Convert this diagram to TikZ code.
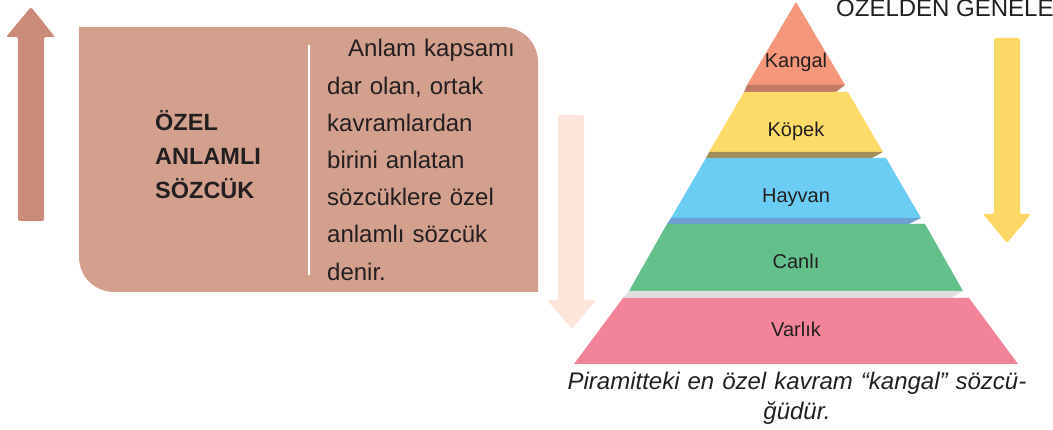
\documentclass[tikz,border=0pt]{standalone}
\usepackage{fontspec}
\setmainfont{Liberation Sans}
\usepackage{tikz}
\definecolor{okkoyu}{RGB}{202,139,121}
\definecolor{kutu}{RGB}{212,160,142}
\definecolor{soluk}{RGB}{252,230,220}
\definecolor{sari}{RGB}{254,216,102}
\definecolor{kangalrenk}{RGB}{244,151,122}
\definecolor{kangalgolge}{RGB}{193,122,102}
\definecolor{kopekrenk}{RGB}{253,219,104}
\definecolor{kopekgolge}{RGB}{160,142,86}
\definecolor{hayvanrenk}{RGB}{107,205,244}
\definecolor{hayvangolge}{RGB}{110,159,211}
\definecolor{canlirenk}{RGB}{99,192,139}
\definecolor{canligolge}{RGB}{224,224,224}
\definecolor{varlikrenk}{RGB}{242,132,153}
\definecolor{yazi}{RGB}{35,31,32}

\tikzset{
	okblok/.style={rounded corners=2pt},
	katyazi/.style={anchor=base, text=yazi, inner sep=0pt, font=\fontsize{20pt}{24pt}\selectfont},
	metin/.style={anchor=base west, text=yazi, inner sep=0pt, align=left}
}

\begin{document}
\begin{tikzpicture}[x=1pt, y=1pt]
	\useasboundingbox (0,0) rectangle (1053,430);
	
	% arrows
	\fill[okkoyu, okblok] (18,209) -- (18,393) -- (6,393) -- (31,423) -- (55,393) -- (44,393) -- (44,209) -- cycle;
	\fill[soluk, okblok] (558,315) -- (558,130) -- (547,130) -- (572,101) -- (596,130) -- (584,130) -- (584,315) -- cycle;
	\fill[sari, okblok] (994,392) -- (994,216) -- (983,216) -- (1007,187) -- (1031,216) -- (1020,216) -- (1020,392) -- cycle;
	
	% box
	\fill[kutu] (79,403) -- (503,403) arc[start angle=90, end angle=0, radius=35pt] -- (538,138) -- (114,138) arc[start angle=270, end angle=180, radius=35pt] -- cycle;
	\draw[white, line width=1.5pt] (309,385) -- (309,155);
	\node[metin, text width=130pt, font=\bfseries\fontsize{23.5pt}{34pt}\selectfont] (ozel) at (155,299) {ÖZEL\\ANLAMLI\\SÖZCÜK};
	\node[metin, text width=205pt, font=\fontsize{24pt}{37.2pt}\selectfont] (tanim) at (327,373) {\hspace*{21pt}Anlam kapsamı\\dar olan, ortak\\kavramlardan\\birini anlatan\\sözcüklere özel\\anlamlı sözcük\\denir.};
	
	% pyramid
	\fill[kangalrenk] (796,428) -- (845,345) -- (747,345) -- cycle;
	\fill[kangalgolge] (747,345) -- (845,345) -- (836,338) -- (744,338) -- cycle;
	\fill[kopekrenk] (744,338) -- (848,338) -- (883,278) -- (709,278) -- cycle;
	\fill[kopekgolge] (709,278) -- (883,278) -- (872,272) -- (706,272) -- cycle;
	\fill[hayvanrenk] (706,272) -- (886,272) -- (921,212) -- (671,212) -- cycle;
	\fill[hayvangolge] (671,212) -- (921,212) -- (909,206) -- (667,206) -- cycle;
	\fill[canlirenk] (667,206) -- (925,206) -- (963,139) -- (629,139) -- cycle;
	\fill[canligolge] (629,139) -- (963,139) -- (951,132) -- (623,132) -- cycle;
	\fill[varlikrenk] (623,132) -- (969,132) -- (1018,66) -- (574,66) -- cycle;
	\node[katyazi] (kangal) at (796,362) {Kangal};
	\node[katyazi] (kopek) at (796,293) {Köpek};
	\node[katyazi] (hayvan) at (796,227) {Hayvan};
	\node[katyazi] (canli) at (796,161) {Canlı};
	\node[katyazi] (varlik) at (796,93) {Varlık};
	
	% texts
	\node[metin, font=\fontsize{24pt}{28pt}\selectfont] (baslik) at (836,413) {ÖZELDEN GENELE};
	\node[anchor=base, text=yazi, inner sep=0pt, text width=470pt, align=center, font=\itshape\fontsize{24pt}{30pt}\selectfont] (aciklama) at (797,40) {Piramitteki en özel kavram “kangal” sözcü-\\ğüdür.};
\end{tikzpicture}
\end{document}
